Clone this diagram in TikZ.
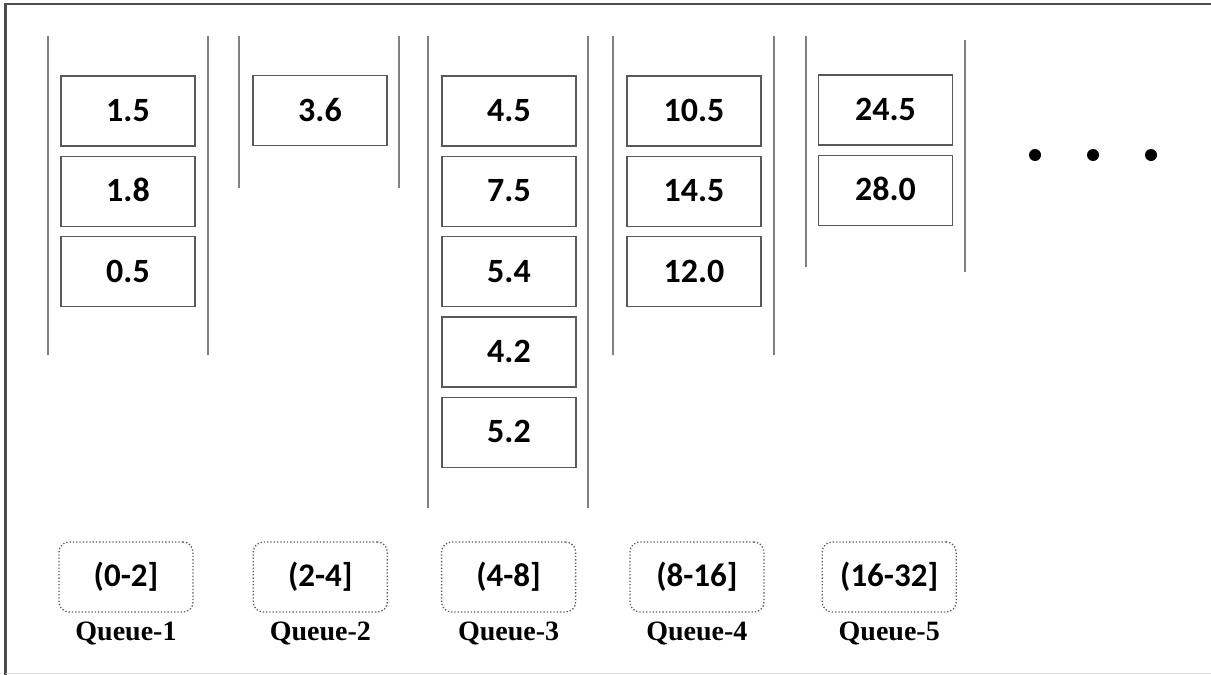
\documentclass[tikz,border=0pt]{standalone}
\usepackage{fontspec}
\setmainfont{Liberation Serif}
\newfontfamily\valfont{Carlito}
\usepackage{tikz}
\usetikzlibrary{positioning}

\begin{document}
\begin{tikzpicture}[x=1pt, y=-1pt,
		node distance = 9pt,
		val/.style = {draw=black!65, line width=1.3pt, minimum width=134pt, minimum height=70pt, inner sep=0pt, text height=21pt, text depth=0pt, font=\valfont\fontsize{34}{34}\selectfont\bfseries},
		rangebox/.style = {draw=black!65, line width=1.3pt, dotted, rounded corners=10pt, minimum width=134pt, minimum height=70pt, inner sep=0pt, font=\valfont\fontsize{33}{33}\selectfont\bfseries},
		qname/.style = {inner sep=0pt, font=\fontsize{28}{28}\selectfont\bfseries},
		wall/.style = {draw=black!50, line width=1.6pt}
		]
		\useasboundingbox (0,0) rectangle (1211,675);
		% frame
		\draw[black!70, line width=2.5pt] (5.5,675) -- (5.5,4) -- (1215,4);
		\draw[black!12, line width=1pt] (5.5,673.5) -- (1215,673.5);
		
		% queue 1
		\draw[wall] (48,36) -- (48,355);
		\draw[wall] (208,36) -- (208,355);
		\node (q1a) [val] at (128,111) {1.5};
		\node (q1b) [val,below=of q1a] {1.8};
		\node (q1c) [val,below=of q1b] {0.5};
		
		% queue 2
		\draw[wall] (239,36) -- (239,188);
		\draw[wall] (399,36) -- (399,188);
		\node (q2a) [val] at (320,110.5) {3.6};
		
		% queue 3
		\draw[wall] (428,36) -- (428,508);
		\draw[wall] (588,36) -- (588,508);
		\node (q3a) [val] at (509,111) {4.5};
		\node (q3b) [val,below=of q3a] {7.5};
		\node (q3c) [val,below=of q3b] {5.4};
		\node (q3d) [val,below=of q3c] {4.2};
		\node (q3e) [val,below=of q3d] {5.2};
		
		% queue 4
		\draw[wall] (613,36) -- (613,355);
		\draw[wall] (774,36) -- (774,355);
		\node (q4a) [val] at (694,111) {10.5};
		\node (q4b) [val,below=of q4a] {14.5};
		\node (q4c) [val,below=of q4b] {12.0};
		
		% queue 5
		\draw[wall] (806,36) -- (806,267);
		\draw[wall] (965,40) -- (965,272);
		\node (q5a) [val] at (885.5,110) {24.5};
		\node (q5b) [val,below=of q5a] {28.0};
		
		% more queues
		\fill (1035,155) circle (6);
		\fill (1093,155) circle (6);
		\fill (1151,155) circle (6);
		
		% ranges and names
		\node (r1) [rangebox] at (126,577) {(0-2]};
		\node (r2) [rangebox,right=59pt of r1] {(2-4]};
		\node (r3) [rangebox,right=53pt of r2] {(4-8]};
		\node (r4) [rangebox,right=53pt of r3] {(8-16]};
		\node (r5) [rangebox,right=57pt of r4] {(16-32]};
		
		\node (n1) [qname,below=9pt of r1] {Queue-1};
		\node (n2) [qname,below=9pt of r2] {Queue-2};
		\node (n3) [qname,below=9pt of r3] {Queue-3};
		\node (n4) [qname,below=9pt of r4] {Queue-4};
		\node (n5) [qname,below=9pt of r5] {Queue-5};
		
		\end{tikzpicture}
\end{document}
